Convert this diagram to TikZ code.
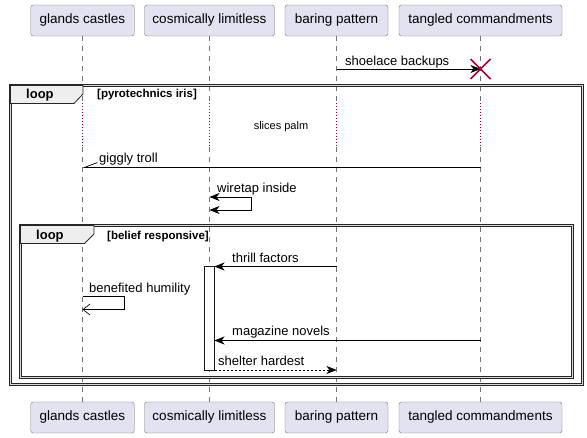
\documentclass[tikz,border=0pt]{standalone}
\usepackage{fontspec}
\setmainfont{Liberation Sans}
\usetikzlibrary{arrows.meta,positioning}
\definecolor{headfill}{RGB}{226,226,240}
\definecolor{headline}{RGB}{24,24,24}
\definecolor{tabfill}{RGB}{238,238,238}
\definecolor{delayred}{RGB}{168,0,54}

\begin{document}
\begin{tikzpicture}[
  x=1pt, y=-1pt,
  actor/.style={rectangle, rounded corners=2.5pt, draw=headline!60, fill=headfill,
    minimum height=31pt, inner sep=0pt, font=\fontsize{13.5}{15}\selectfont},
  lifeline/.style={draw=black!55, line width=0.5pt, dash pattern=on 5pt off 5pt},
  delay/.style={draw=delayred, line width=0.8pt, dash pattern=on 1pt off 2pt},
  msg/.style={-{Stealth[length=10pt, width=8pt, inset=3pt]}, line width=0.7pt},
  reply/.style={msg, dash pattern=on 2pt off 2pt},
  openmsg/.style={-{Straight Barb[length=7pt, width=11pt]}, line width=0.7pt},
  halfmsg/.style={-{Straight Barb[right, length=13pt, width=10pt]}, line width=0.7pt},
  bothmsg/.style={{Stealth[length=10pt, width=8pt, inset=3pt]}-{Stealth[length=10pt, width=8pt, inset=3pt]}, line width=0.7pt},
  msgtext/.style={anchor=base west, inner sep=0pt, font=\fontsize{13}{15}\selectfont},
  loopframe/.style={draw=black!85, double=black!15, double distance=0.8pt, line width=0.9pt},
  looptab/.style={draw=black!85, fill=tabfill, line width=0.8pt},
  tabtext/.style={anchor=base west, inner sep=0pt, font=\fontsize{13}{15}\selectfont\bfseries},
  guard/.style={anchor=base west, inner sep=0pt, font=\fontsize{11.5}{13}\selectfont\bfseries},
  activation/.style={draw=headline, fill=white, line width=0.7pt},
]
  \useasboundingbox (0,0) rectangle (587,438);

  % participants
  \node[actor, minimum width=103.5pt] (gc) at (82.5,20.5) {glands castles};
  \node[actor, minimum width=130pt] (cl) at (209.5,20.5) {cosmically limitless};
  \node[actor, minimum width=103pt] (bp) at (336.5,20.5) {baring pattern};
  \node[actor, minimum width=163pt] (tc) at (480.5,20.5) {tangled commandments};
  \node[actor, minimum width=103.5pt] (gc2) at (82.5,417.5) {glands castles};
  \node[actor, minimum width=130pt] (cl2) at (209.5,417.5) {cosmically limitless};
  \node[actor, minimum width=103pt] (bp2) at (336.5,417.5) {baring pattern};
  \node[actor, minimum width=163pt] (tc2) at (480.5,417.5) {tangled commandments};

  \foreach \p in {gc,cl,bp,tc} {
    \draw[lifeline] (\p.south) -- (\p |- 0,103);
    \draw[delay] (\p |- 0,103) -- (\p |- 0,147);
    \draw[lifeline] (\p |- 0,147) -- (\p2.north);
  }

  % loop frames
  \draw[loopframe] (10.5,85.5) rectangle (582.5,384.5);
  \draw[looptab] (10.5,85.5) -- (83,85.5) -- (83,94) -- (74,103.5) -- (10.5,103.5) -- cycle;
  \node[tabtext] (outerloop) at (26,99) {loop};
  \node[guard] (outerguard) at (97,97.5) {[pyrotechnics iris]};

  \draw[loopframe] (20.5,225.5) rectangle (572.5,377.5);
  \draw[looptab] (20.5,225.5) -- (94,225.5) -- (94,234) -- (84.5,243.5) -- (20.5,243.5) -- cycle;
  \node[guard] (innerguard) at (107,239.5) {[belief responsive]};
  \node[tabtext] (innerloop) at (36,240) {loop};

  % messages
  \coordinate (destroy) at (tc |- 0,69);
  \draw[msg] (bp |- 0,69) -- (destroy);
  \node[msgtext] (shoelace) at (345,65.5) {shoelace backups};
  \draw[delayred, line width=1.5pt] (destroy) ++(-10,-10) -- ++(20,20)
    (destroy) ++(10,-10) -- ++(-20,20);

  \node[font=\fontsize{11}{13}\selectfont, inner sep=0pt, anchor=base] (slices) at (281,129.5) {slices palm};

  \draw[halfmsg] (tc |- 0,167.5) -- (gc |- 0,167.5);
  \node[msgtext] (giggly) at (99,163) {giggly troll};

  \draw[bothmsg] (cl |- 0,197) -- (251.5,197) -- (251.5,210) -- (cl |- 0,210);
  \node[msgtext] (wiretap) at (217,193) {wiretap inside};

  \draw[activation] (204,266.5) rectangle (214.5,370);
  \coordinate (act) at (214.5,266.5);

  \draw[msg] (bp |- 0,266.5) -- (act);
  \node[msgtext] (thrill) at (232,262.5) {thrill factors};

  \draw[openmsg] (gc |- 0,296.5) -- (124,296.5) -- (124,309.5) -- (gc |- 0,309.5);
  \node[msgtext] (humility) at (89,293) {benefited humility};

  \draw[msg] (tc |- 0,340.5) -- (act |- 0,340.5);
  \node[msgtext] (magazine) at (232,335.5) {magazine novels};

  \draw[reply] (act |- 0,370) -- (bp |- 0,370);
  \node[msgtext] (shelter) at (218,366) {shelter hardest};
\end{tikzpicture}
\end{document}
